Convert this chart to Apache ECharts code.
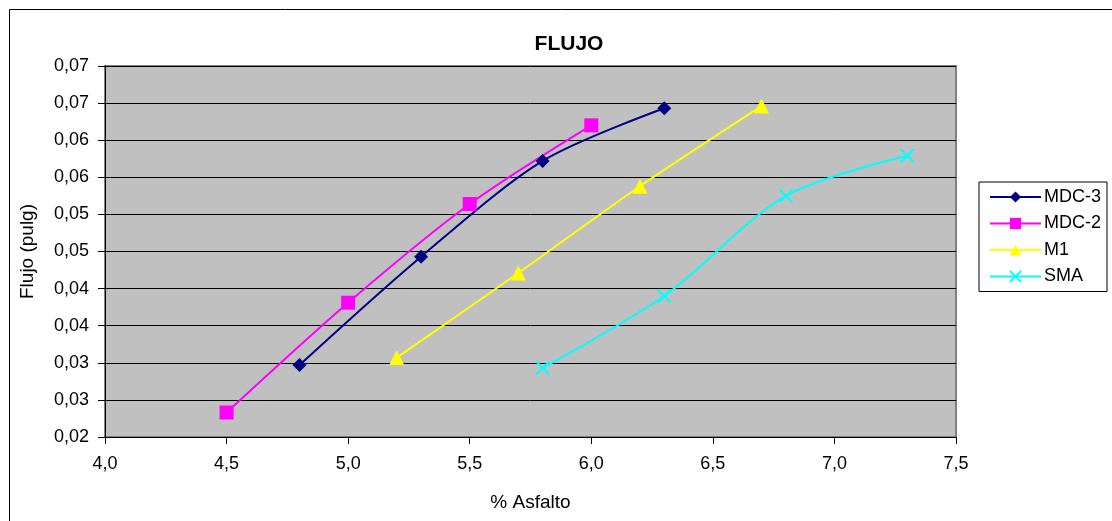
<!DOCTYPE html>
<html lang="es">
<head>
    <meta charset="UTF-8">
    <title>FLUJO</title>
    <script src="https://cdn.jsdelivr.net/npm/echarts@6/dist/echarts.min.js"></script>
    <style>
        html, body { margin: 0; padding: 0; background: #fff; }
    </style>
</head>
<body>
    <div id="main" style="width:1112px;height:521px;"></div>
    <script type="text/javascript">
        // datos
        var seriesNames = ['MDC-3', 'MDC-2', 'M1', 'SMA'];
        var mdc3 = [[4.8, 0.0297], [5.3, 0.0443], [5.8, 0.0572], [6.3, 0.0643]];
        var mdc2 = [[4.5, 0.0233], [5.0, 0.0381], [5.5, 0.0514], [6.0, 0.0620]];
        var m1 = [[5.2, 0.0307], [5.7, 0.0421], [6.2, 0.0538], [6.7, 0.0646]];
        var sma = [[5.8, 0.0293], [6.3, 0.0390], [6.8, 0.0525], [7.3, 0.0579]];
        var xLabels = ['4,0', '4,5', '5,0', '5,5', '6,0', '6,5', '7,0', '7,5'];
        var yLabels = ['0,02', '0,03', '0,03', '0,04', '0,04', '0,05', '0,05', '0,06', '0,06', '0,07', '0,07'];

        var font = 'Liberation Sans, Arial, sans-serif';
        var myChart = echarts.init(document.getElementById('main'));

        function serie(name, data, color, symbol, size) {
            return {
                name: name,
                type: 'line',
                data: data,
                smooth: 0.3,
                symbol: symbol,
                symbolSize: size,
                showAllSymbol: true,
                lineStyle: { color: color, width: 2 },
                itemStyle: { color: color },
                emphasis: { disabled: true },
                z: 3
            };
        }

        var sSma = serie('SMA', sma, '#00FFFF', 'path://M0,0L10,10M10,0L0,10', 13);
        sSma.itemStyle = { color: 'rgba(0,0,0,0)', borderColor: '#00FFFF', borderWidth: 2 };

        myChart.setOption({
            animation: false,
            title: {
                text: 'FLUJO',
                left: 564,
                top: 29,
                textAlign: 'center',
                textStyle: { fontFamily: font, fontSize: 21, fontWeight: 'bold', color: '#000' }
            },
            graphic: [{
                type: 'rect',
                shape: { x: 9.5, y: 9.5, width: 1120, height: 530 },
                style: { fill: 'none', stroke: '#000', lineWidth: 1 },
                silent: true
            }],
            legend: {
                orient: 'vertical',
                left: 979,
                top: 182,
                padding: [6, 6, 6, 10],
                itemWidth: 51,
                itemHeight: 14,
                itemGap: 8.5,
                backgroundColor: '#fff',
                borderColor: '#000',
                borderWidth: 1,
                textStyle: { fontFamily: font, fontSize: 18, color: '#000', padding: [0, 0, 0, -2] },
                data: seriesNames
            },
            grid: {
                left: 105,
                top: 66,
                width: 851,
                height: 371,
                show: true,
                backgroundColor: '#C0C0C0',
                borderColor: '#808080',
                borderWidth: 2
            },
            xAxis: {
                type: 'value',
                min: 4.0,
                max: 7.5,
                interval: 0.5,
                name: '% Asfalto',
                nameLocation: 'middle',
                nameGap: 56,
                nameTextStyle: { fontFamily: font, fontSize: 19, color: '#000' },
                axisLine: { show: true, lineStyle: { color: '#000', width: 1 } },
                axisTick: { show: true, length: 7, lineStyle: { color: '#000' } },
                axisLabel: {
                    margin: 18,
                    fontFamily: font,
                    fontSize: 18,
                    color: '#000',
                    formatter: function (v, i) { return xLabels[i]; }
                },
                splitLine: { show: false }
            },
            yAxis: {
                type: 'value',
                min: 0.02,
                max: 0.07,
                interval: 0.005,
                name: 'Flujo (pulg)',
                nameLocation: 'middle',
                nameGap: 68,
                nameTextStyle: { fontFamily: font, fontSize: 19, color: '#000' },
                axisLine: { show: true, lineStyle: { color: '#000', width: 1 } },
                axisTick: { show: true, length: 7, lineStyle: { color: '#000' } },
                axisLabel: {
                    margin: 16,
                    fontFamily: font,
                    fontSize: 18,
                    color: '#000',
                    formatter: function (v, i) { return yLabels[i]; }
                },
                splitLine: { show: true, lineStyle: { color: '#000', width: 1 } }
            },
            series: [
                serie('MDC-3', mdc3, '#000080', 'diamond', 14),
                serie('MDC-2', mdc2, '#FF00FF', 'rect', 14),
                serie('M1', m1, '#FFFF00', 'triangle', 15),
                sSma
            ]
        });
    </script>
</body>
</html>
